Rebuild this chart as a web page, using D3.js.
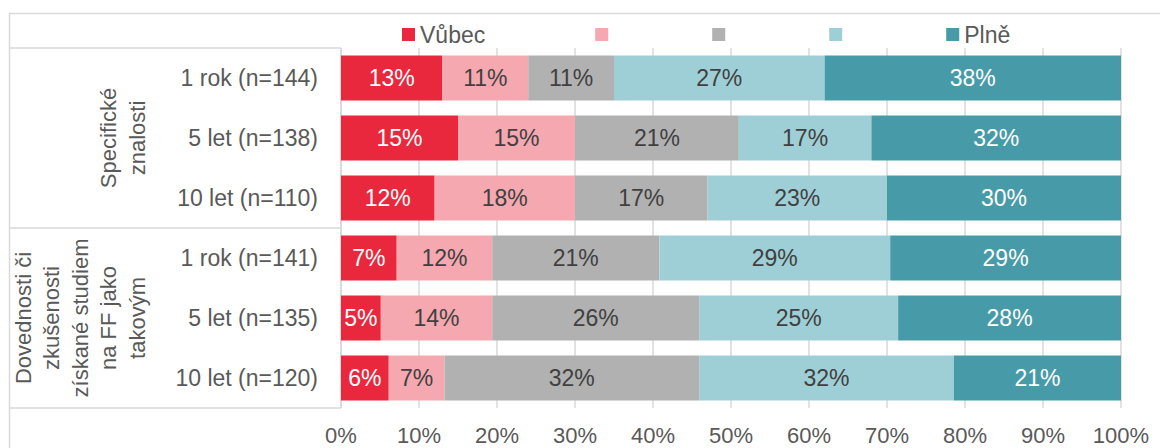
<!DOCTYPE html>
<html>
<head>
<meta charset="utf-8">
<script src="https://cdn.jsdelivr.net/npm/d3@7"></script>
<style>
  body { margin: 0; background: #fff; }
  text { font-family: Arial, "Liberation Sans", sans-serif; }
</style>
</head>
<body>
<svg id="chart" width="1160" height="448"></svg>
<script>
// categories, drawn top-down
var categories = ["1 rok (n=144)", "5 let (n=138)", "10 let (n=110)",
                  "1 rok (n=141)", "5 let (n=135)", "10 let (n=120)"];
var groupLabels = [["Specifické", "znalosti"],
                   ["Dovednosti či", "zkušenosti", "získané studiem", "na FF jako", "takovým"]];

// legend names, one per series (middle ones have no text in the original)
var seriesNames = ["Vůbec", "", "", "", "Plně"];
var seriesColors = ["#E9283D", "#F5A8B0", "#B1B1B1", "#9FCFD6", "#479BA8"];
var labelColors = ["#fff", "#404040", "#404040", "#404040", "#fff"];

// values in % per series
var vubec  = [13, 15, 12, 7, 5, 6];
var s2     = [11, 15, 18, 12, 14, 7];
var s3     = [11, 21, 17, 21, 26, 32];
var s4     = [27, 17, 23, 29, 25, 32];
var plne   = [38, 32, 30, 29, 28, 21];

var tickValues = [0, 0.1, 0.2, 0.3, 0.4, 0.5, 0.6, 0.7, 0.8, 0.9, 1];

var allSeries = [vubec, s2, s3, s4, plne];
var keys = ["k0", "k1", "k2", "k3", "k4"];

var table = categories.map(function(c, i) {
    var row = { cat: c };
    keys.forEach(function(k, j) { row[k] = allSeries[j][i]; });
    return row;
});

// 100% stacked, like the original
var stacked = d3.stack().keys(keys).offset(d3.stackOffsetExpand)(table);

var svg = d3.select("#chart");
var lineColor = "#D9D9D9";
var axisText = "#595959";
var fontSize = "23px";

var plotLeft = 341, plotRight = 1121, plotTop = 48, plotBottom = 408;

var x = d3.scaleLinear().domain([0, 1]).range([plotLeft, plotRight]);
var y = d3.scaleBand().domain(categories).range([plotTop, plotBottom])
    .paddingInner(0.25).paddingOuter(0.125);

// outer frame
svg.append("path")
    .attr("d", "M9.5,448 V13.5 H1160")
    .attr("fill", "none")
    .attr("stroke", lineColor)
    .attr("stroke-width", 1.5);

// gridlines
svg.append("g").selectAll("line")
    .data(tickValues)
    .enter().append("line")
    .attr("x1", function(d) { return x(d); })
    .attr("x2", function(d) { return x(d); })
    .attr("y1", plotTop)
    .attr("y2", plotBottom)
    .attr("stroke", lineColor)
    .attr("stroke-width", 1.5);

// category table lines on the left
var groupEdges = [plotTop];
for (var g = 0; g < groupLabels.length; g++) {
    groupEdges.push(plotTop + (plotBottom - plotTop) * (g + 1) / groupLabels.length);
}
svg.append("g").selectAll("line")
    .data(groupEdges)
    .enter().append("line")
    .attr("x1", 9)
    .attr("x2", plotLeft)
    .attr("y1", function(d) { return d; })
    .attr("y2", function(d) { return d; })
    .attr("stroke", lineColor)
    .attr("stroke-width", 1.5);
svg.append("line")
    .attr("x1", plotLeft).attr("x2", plotLeft)
    .attr("y1", plotTop).attr("y2", plotBottom)
    .attr("stroke", lineColor)
    .attr("stroke-width", 1.5);

// bars
var layer = svg.append("g").selectAll("g")
    .data(stacked)
    .enter().append("g")
    .attr("fill", function(d, i) { return seriesColors[i]; });

layer.selectAll("rect")
    .data(function(d) { return d; })
    .enter().append("rect")
    .attr("x", function(d) { return x(d[0]); })
    .attr("width", function(d) { return x(d[1]) - x(d[0]); })
    .attr("y", function(d) { return y(d.data.cat); })
    .attr("height", y.bandwidth());

// bar labels
svg.append("g").selectAll("g")
    .data(stacked)
    .enter().append("g")
    .attr("fill", function(d, i) { return labelColors[i]; })
    .selectAll("text")
    .data(function(d) { return d.map(function(p) { p.key = d.key; return p; }); })
    .enter().append("text")
    .attr("x", function(d) { return (x(d[0]) + x(d[1])) / 2; })
    .attr("y", function(d) { return y(d.data.cat) + y.bandwidth() / 2; })
    .attr("dy", "0.36em")
    .attr("text-anchor", "middle")
    .style("font-size", fontSize)
    .text(function(d) { return d.data[d.key] + "%"; });

// category labels
svg.append("g").selectAll("text")
    .data(categories)
    .enter().append("text")
    .attr("x", plotLeft - 23)
    .attr("y", function(d) { return y(d) + y.bandwidth() / 2; })
    .attr("dy", "0.36em")
    .attr("text-anchor", "end")
    .attr("fill", axisText)
    .style("font-size", fontSize)
    .text(function(d) { return d; });

// group labels, rotated, last line aligned at the same x
var lineStep = 28.5, lastLineX = 137;
groupLabels.forEach(function(lines, gi) {
    var cy = (groupEdges[gi] + groupEdges[gi + 1]) / 2;
    svg.append("g").selectAll("text")
        .data(lines)
        .enter().append("text")
        .attr("transform", function(d, i) {
            var lx = lastLineX - (lines.length - 1 - i) * lineStep;
            return "translate(" + lx + "," + cy + ") rotate(-90)";
        })
        .attr("dy", "0.36em")
        .attr("text-anchor", "middle")
        .attr("fill", axisText)
        .style("font-size", "22px")
        .text(function(d) { return d; });
});

// x axis tick labels
svg.append("g").selectAll("text")
    .data(tickValues)
    .enter().append("text")
    .attr("x", function(d) { return x(d); })
    .attr("y", 443)
    .attr("text-anchor", "middle")
    .attr("fill", axisText)
    .style("font-size", "22px")
    .text(d3.format(".0%"));

// legend
var legend = svg.append("g");
var lx = 402;
seriesNames.forEach(function(name, i) {
    var item = legend.append("g").attr("transform", "translate(" + lx + ",28)");
    item.append("rect")
        .attr("width", 13).attr("height", 13)
        .attr("fill", seriesColors[i]);
    var t = item.append("text")
        .attr("x", 18)
        .attr("y", 6.5)
        .attr("dy", "0.36em")
        .attr("fill", axisText)
        .style("font-size", fontSize)
        .text(name);
    var w = name ? t.node().getComputedTextLength() + 11 : 0;
    lx += 117 + w;
});
</script>
</body>
</html>
